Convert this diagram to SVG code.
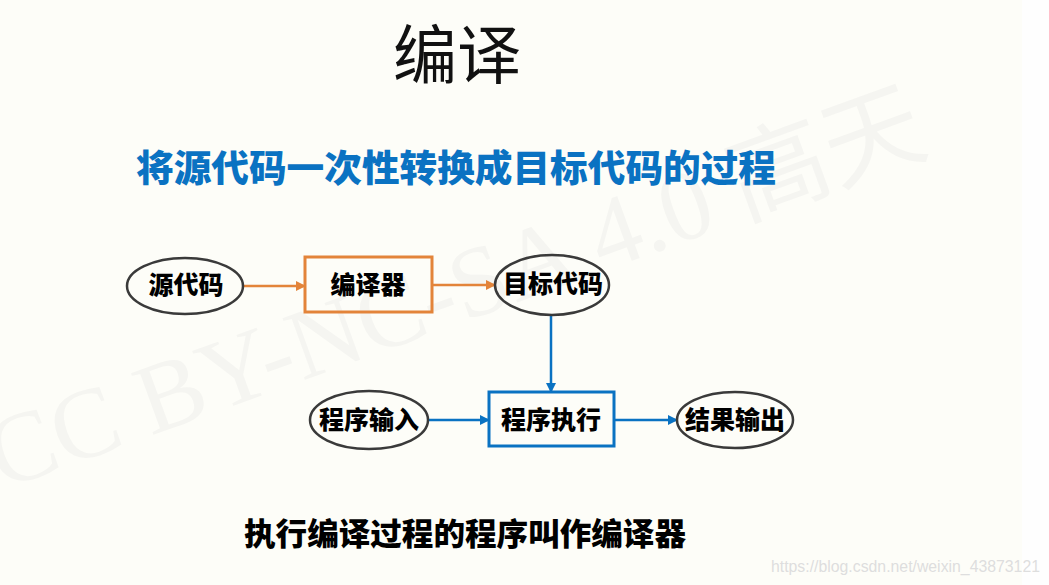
<svg xmlns="http://www.w3.org/2000/svg" width="1049" height="585" viewBox="0 0 1049 585">
  <defs>
    <style>
      .cjk { font-family: "Noto Sans CJK SC", "Noto Sans", sans-serif; }
      .node-text { font-family: "Noto Sans CJK SC", "Noto Sans", sans-serif; font-weight: 900; font-size: 25px; fill: #000; text-anchor: middle; }
      .oval { fill: none; stroke: #3a3a3a; stroke-width: 2.5; }
      .orange { stroke: #e3843a; }
      .blue { stroke: #0a72c2; }
      .conn { fill: none; stroke-width: 2.5; }
    </style>
    <marker id="arrOrange" viewBox="0 0 10 10" refX="9" refY="5" markerWidth="4" markerHeight="4" orient="auto" markerUnits="strokeWidth">
      <path d="M0,0 L10,5 L0,10 z" fill="#e3843a"/>
    </marker>
    <marker id="arrBlue" viewBox="0 0 10 10" refX="9" refY="5" markerWidth="4" markerHeight="4" orient="auto" markerUnits="strokeWidth">
      <path d="M0,0 L10,5 L0,10 z" fill="#0a72c2"/>
    </marker>
  </defs>

  <rect x="0" y="0" width="1049" height="585" fill="#fefefe"/>
  <rect x="0" y="0" width="1022" height="585" fill="#fdfdf8"/>

  <!-- faint watermark -->
  <text x="2" y="490" transform="rotate(-20 2 490)" font-family="Liberation Serif, 'Noto Sans CJK SC', serif" font-size="100" fill="#f5f5f1">CC BY-NC-SA 4.0 高天</text>

  <!-- titles -->
  <text x="457" y="78" class="cjk" font-size="64" text-anchor="middle" fill="#111">编译</text>
  <text x="136" y="182" class="cjk" font-size="37" font-weight="900" textLength="640" lengthAdjust="spacingAndGlyphs" fill="#0a72c2">将源代码一次性转换成目标代码的过程</text>

  <!-- connectors -->
  <g id="connectors">
    <line class="conn orange" x1="243" y1="286" x2="305" y2="286" marker-end="url(#arrOrange)"/>
    <line class="conn orange" x1="432" y1="285" x2="495" y2="285" marker-end="url(#arrOrange)"/>
    <line class="conn blue" x1="551" y1="315" x2="551" y2="392" marker-end="url(#arrBlue)"/>
    <line class="conn blue" x1="428" y1="420" x2="489" y2="420" marker-end="url(#arrBlue)"/>
    <line class="conn blue" x1="614" y1="420" x2="677" y2="420" marker-end="url(#arrBlue)"/>
  </g>

  <!-- nodes -->
  <g id="node-source">
    <ellipse class="oval" cx="185" cy="286" rx="58" ry="28"/>
    <text class="node-text" x="186" y="294">源代码</text>
  </g>
  <g id="node-compiler">
    <rect x="305" y="257" width="127" height="55" fill="none" stroke="#e3843a" stroke-width="3"/>
    <text class="node-text" x="368" y="294">编译器</text>
  </g>
  <g id="node-target">
    <ellipse class="oval" cx="552" cy="285" rx="57" ry="30"/>
    <text class="node-text" x="553" y="293">目标代码</text>
  </g>
  <g id="node-input">
    <ellipse class="oval" cx="369" cy="420" rx="59" ry="29"/>
    <text class="node-text" x="369" y="429">程序输入</text>
  </g>
  <g id="node-exec">
    <rect x="489" y="392" width="125" height="54" fill="none" stroke="#0a72c2" stroke-width="3"/>
    <text class="node-text" x="551" y="429">程序执行</text>
  </g>
  <g id="node-output">
    <ellipse class="oval" cx="735" cy="420" rx="58" ry="28"/>
    <text class="node-text" x="735" y="429">结果输出</text>
  </g>

  <!-- bottom caption -->
  <text x="244" y="545" class="cjk" font-size="31" font-weight="900" textLength="442" lengthAdjust="spacingAndGlyphs" fill="#000">执行编译过程的程序叫作编译器</text>

  <!-- url watermark -->
  <text x="1040" y="572" font-family="Liberation Sans, Arial, sans-serif" font-size="16" text-anchor="end" textLength="269" lengthAdjust="spacingAndGlyphs" fill="#dedede">https://blog.csdn.net/weixin_43873121</text>
</svg>
